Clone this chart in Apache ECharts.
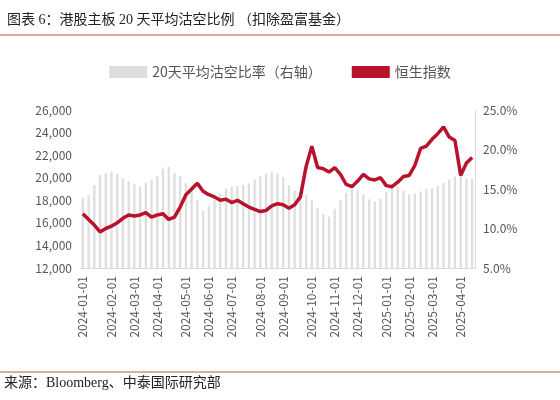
<!DOCTYPE html>
<html><head><meta charset="utf-8">
<script src="https://cdn.jsdelivr.net/npm/echarts@6/dist/echarts.min.js"></script>
<style>body{margin:0;background:#fff}#c{width:560px;height:400px}</style>
</head><body><div id="c"></div>
<script>
// weekly Mondays 2024-01-01 .. 2025-04-21
var dates = [];
var d = new Date(Date.UTC(2024, 0, 1));
while (d <= new Date(Date.UTC(2025, 3, 21))) {
    dates.push(d.toISOString().slice(0, 10));
    d = new Date(d.getTime() + 7 * 864e5);
}
var hsi = [
    16800, 16300, 15800, 15200, 15500,
    15700, 16000, 16400, 16700,
    16600, 16700, 16900, 16500,
    16700, 16800, 16300, 16500, 17400,
    18500, 19000, 19500, 18800,
    18500, 18300, 18000, 18100,
    17800, 18000, 17700, 17400, 17200,
    17000, 17100, 17500, 17700,
    17600, 17300, 17600, 18300, 21000,
    22800, 20900, 20800, 20500,
    20900, 20300, 19400, 19200,
    19700, 20300, 19900, 19800, 20000,
    19300, 19200, 19600, 20100,
    20200, 21100, 22600, 22800,
    23400, 23900, 24500, 23600, 23300,
    20200, 21300, 21800
];
var shortRatio = [
    13.9, 14.2, 15.5, 16.8, 17.0,
    17.2, 16.9, 16.4, 16.0,
    15.6, 15.3, 15.8, 16.2,
    16.6, 17.6, 17.8, 17.0, 16.6,
    15.8, 14.8, 13.6, 12.3,
    12.8, 13.6, 14.4, 15.1,
    15.3, 15.4, 15.5, 15.7, 16.2,
    16.6, 17.0, 17.2, 17.0,
    16.5, 15.5, 14.8, 14.3, 14.3,
    13.6, 12.6, 11.8, 11.5,
    12.5, 13.6, 14.5, 15.0,
    14.8, 14.3, 13.7, 13.4, 13.8,
    14.6, 15.6, 15.3, 14.8,
    14.3, 14.4, 14.7, 15.0,
    15.1, 15.4, 15.8, 16.2, 16.6,
    16.8, 16.4, 16.3
];
var chart = echarts.init(document.getElementById('c'));
var font = '"Liberation Serif", "Noto Sans CJK SC", serif';
var isMonthStart = function (i, v) { return i === 0 || v.slice(5, 7) !== dates[i - 1].slice(5, 7); };
chart.setOption({
    animation: false,
    textStyle: {fontFamily: '"Noto Sans CJK SC", sans-serif'},
    title: {
        text: '图表 6：港股主板 20 天平均沽空比例 （扣除盈富基金）',
        left: 2, top: 8,
        textStyle: {fontSize: 14, fontWeight: 'normal', color: '#222', fontFamily: font}
    },
    graphic: [
        {type: 'line', shape: {x1: 0, y1: 35, x2: 560, y2: 35}, style: {stroke: '#c0504d', lineWidth: 1}},
        {type: 'line', shape: {x1: 0, y1: 372, x2: 560, y2: 372}, style: {stroke: '#c0504d', lineWidth: 1}},
        {type: 'text', left: 4, top: 376, style: {text: '来源：Bloomberg、中泰国际研究部', fontSize: 14, fill: '#222', fontFamily: font}}
    ],
    legend: {
        top: 60, left: 'center', itemGap: 30,
        textStyle: {fontSize: 14, color: '#555'},
        data: [
            {name: '20天平均沽空比率（右轴）', icon: 'rect', itemStyle: {color: '#dedede'}},
            {name: '恒生指数', icon: 'rect'}
        ],
        itemWidth: 38, itemHeight: 12
    },
    grid: {left: 80, right: 85, top: 110, bottom: 132},
    xAxis: {
        type: 'category', data: dates, boundaryGap: true,
        axisLine: {lineStyle: {color: '#d9d9d9'}},
        axisTick: {alignWithLabel: true, lineStyle: {color: '#d9d9d9'}, interval: isMonthStart},
        axisLabel: {
            rotate: 90, color: '#555', fontSize: 12, interval: isMonthStart,
            formatter: function (v) { return v.slice(0, 8) + '01'; }
        }
    },
    yAxis: [
        {type: 'value', min: 12000, max: 26000, interval: 2000, splitLine: {show: false},
         axisLabel: {color: '#555', fontSize: 12, formatter: function (v) { return v.toLocaleString('en-US'); }}},
        {type: 'value', min: 5, max: 25, interval: 5, splitLine: {show: false},
         axisLine: {show: true, lineStyle: {color: '#d9d9d9'}},
         axisLabel: {color: '#555', fontSize: 12, formatter: function (v) { return v.toFixed(1) + '%'; }}}
    ],
    series: [
        {name: '20天平均沽空比率（右轴）', type: 'bar', yAxisIndex: 1, data: shortRatio,
         barWidth: '40%', itemStyle: {color: '#dedede'}},
        {name: '恒生指数', type: 'line', data: hsi, symbol: 'none',
         lineStyle: {color: '#b8122c', width: 3.5}, itemStyle: {color: '#b8122c'}}
    ]
});
</script></body></html>
